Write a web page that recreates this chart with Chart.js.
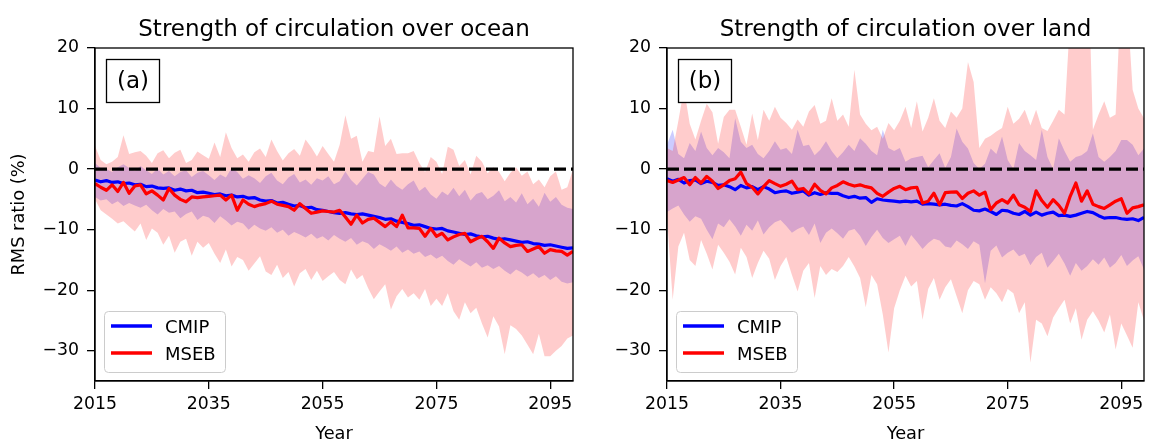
<!DOCTYPE html>
<html>
<head>
<meta charset="utf-8">
<script src="https://cdn.jsdelivr.net/npm/chart.js@4.4.1/dist/chart.umd.min.js"></script>
<style>
  html, body { margin: 0; padding: 0; background: #fff; overflow: hidden; }
  #wrap { position: relative; width: 1151px; height: 442px; }
  canvas { position: absolute; top: 0; }
</style>
</head>
<body>
<div id="wrap">
  <canvas id="ocean" width="580" height="442" style="left:0px"></canvas>
  <canvas id="land" width="579" height="442" style="left:572px"></canvas>
</div>
<script>
// categories
const years = [];
for (let y = 2015; y <= 2099; y++) years.push(y);
const xTicks = [2015, 2035, 2055, 2075, 2095];
const yTicks = [20, 10, 0, -10, -20, -30];

// (a) ocean
const oceanCmipMean = [
  -1.8,-2.1,-1.9,-2.2,-2.1,-2.4,-2.3,-2.6,-2.5,-2.9,
  -2.8,-3.1,-3.2,-3.1,-3.5,-3.3,-3.6,-3.5,-3.9,-3.8,
  -4.0,-4.2,-4.1,-4.4,-4.3,-4.6,-4.5,-4.8,-4.7,-5.1,
  -5.3,-5.2,-5.6,-5.5,-5.8,-6.1,-6.0,-6.4,-6.3,-6.7,
  -6.8,-7.0,-7.2,-7.3,-7.2,-7.4,-7.5,-7.4,-7.6,-7.8,
  -8.0,-8.3,-8.2,-8.6,-8.8,-9.0,-9.3,-9.2,-9.5,-9.8,
  -9.9,-9.8,-10.2,-10.4,-10.6,-10.8,-10.7,-11.0,-11.2,-11.1,
  -11.4,-11.6,-11.5,-11.7,-11.9,-12.1,-12.0,-12.3,-12.4,-12.6,
  -12.5,-12.7,-12.9,-13.1,-13.0];
const oceanCmipHigh = [
  1.0,0.2,0.0,-0.5,0.3,0.8,0.2,-0.3,0.5,-0.2,
  -0.8,0.1,-0.9,-0.3,-1.2,-0.5,-0.2,-1.3,-0.6,-0.3,
  -1.0,-1.8,-0.9,-1.4,0.2,-0.5,-1.6,-1.0,-1.5,-2.3,
  -1.2,-0.6,-1.9,-2.5,-1.4,-0.8,-2.2,-1.7,-2.6,-1.5,
  -1.9,-1.2,-2.5,-2.0,-0.4,-1.8,-2.7,-1.6,-0.5,-0.9,
  -2.4,-3.0,-1.7,-2.8,-3.4,-2.5,-1.9,-3.6,-2.9,-4.2,
  -4.9,-3.7,-4.3,-3.1,-4.5,-3.4,-5.2,-4.1,-3.8,-5.0,
  -4.4,-3.5,-5.3,-4.6,-5.5,-4.0,-5.8,-4.9,-6.2,-3.9,
  -5.4,-4.6,-5.9,-6.4,-6.6];
const oceanCmipLow = [
  -4.6,-5.2,-5.0,-5.8,-5.3,-6.1,-5.6,-6.0,-6.4,-5.9,
  -6.8,-7.5,-6.6,-7.2,-7.0,-8.1,-7.4,-7.0,-8.4,-7.7,
  -8.0,-8.9,-7.8,-8.5,-9.3,-8.7,-9.0,-10.0,-9.2,-9.8,
  -10.2,-9.6,-10.5,-10.0,-11.0,-10.4,-10.8,-11.3,-10.7,-11.5,
  -11.1,-11.8,-10.9,-11.5,-12.0,-11.4,-12.5,-11.9,-12.3,-13.2,
  -12.4,-12.9,-13.5,-12.8,-13.8,-13.3,-14.0,-13.6,-14.5,-14.1,
  -14.8,-14.3,-15.2,-15.8,-14.9,-15.5,-16.1,-15.4,-16.3,-15.9,
  -16.5,-16.0,-16.8,-17.4,-16.6,-17.1,-17.8,-17.2,-18.0,-17.5,
  -18.3,-17.7,-18.6,-18.9,-18.7];
const oceanMsebMean = [
  -2.4,-3.0,-3.5,-2.6,-3.7,-2.2,-4.0,-2.8,-2.6,-4.1,
  -3.6,-4.3,-5.1,-3.2,-4.3,-5.0,-5.4,-4.6,-4.7,-4.6,
  -4.5,-4.4,-4.3,-5.1,-4.3,-6.8,-5.1,-5.8,-6.2,-5.9,
  -5.7,-5.3,-5.8,-6.0,-6.2,-6.8,-5.7,-6.5,-7.3,-7.1,
  -6.9,-7.0,-7.1,-6.8,-7.9,-9.1,-7.6,-8.9,-8.3,-8.1,
  -8.8,-9.5,-8.7,-9.5,-7.6,-9.7,-9.7,-9.8,-11.1,-9.8,
  -11.1,-10.6,-11.7,-11.2,-10.8,-10.6,-12.0,-11.5,-11.1,-12.0,
  -13.1,-11.4,-12.2,-12.8,-12.6,-12.5,-13.6,-13.2,-12.8,-13.9,
  -13.3,-13.5,-13.6,-14.2,-13.6];
const oceanMsebHigh = [
  3.8,1.5,0.8,1.2,2.0,5.6,2.5,2.8,3.0,2.2,
  1.0,2.6,3.1,1.8,2.7,3.2,1.0,1.5,2.9,2.3,
  1.7,4.4,2.0,6.1,3.5,1.8,2.4,1.2,2.8,3.4,
  2.0,4.9,3.0,1.4,2.6,3.3,2.2,4.9,3.6,2.1,
  3.8,2.5,1.2,4.0,8.9,5.0,5.5,1.2,3.0,2.8,
  8.7,3.8,5.0,2.5,2.6,2.6,3.0,1.0,-0.5,2.0,
  1.2,-0.8,3.7,3.2,0.5,1.5,-0.9,2.2,1.2,-0.7,
  0.3,-0.5,-2.0,-0.6,0.3,-1.1,-0.4,-2.5,-1.7,-3.0,
  -1.2,-0.4,-3.4,-3.0,0.0];
const oceanMsebLow = [
  -5.0,-6.8,-7.5,-8.2,-9.0,-8.6,-9.5,-10.3,-9.0,-11.7,
  -9.8,-10.5,-12.5,-11.0,-13.8,-12.0,-11.5,-14.3,-12.0,-13.0,
  -12.2,-14.0,-15.5,-13.3,-16.1,-14.5,-15.0,-16.8,-15.6,-14.4,
  -16.9,-17.5,-15.8,-18.0,-17.0,-19.4,-17.2,-16.5,-18.3,-16.8,
  -18.5,-17.7,-17.0,-18.3,-19.0,-16.6,-18.2,-17.5,-19.7,-21.5,
  -20.2,-19.0,-23.2,-21.0,-19.8,-21.2,-20.5,-21.6,-19.8,-22.6,
  -21.4,-22.6,-20.5,-23.5,-24.9,-22.0,-23.8,-22.9,-25.5,-27.8,
  -24.3,-26.0,-30.6,-25.8,-26.4,-27.5,-29.0,-30.6,-27.2,-30.9,
  -30.9,-30.0,-29.2,-28.0,-27.5];

// (b) land
const landCmipMean = [
  -1.6,-2.0,-1.7,-2.3,-1.9,-1.8,-2.4,-2.0,-2.2,-2.7,
  -2.6,-2.9,-3.4,-2.7,-3.1,-2.9,-3.4,-2.9,-3.3,-3.9,
  -3.7,-3.6,-4.0,-3.8,-3.6,-4.3,-3.9,-4.2,-3.9,-4.0,
  -4.0,-4.4,-4.7,-4.5,-4.8,-4.7,-5.5,-4.9,-5.1,-5.2,
  -5.3,-5.4,-5.3,-5.4,-5.3,-5.8,-5.7,-5.8,-5.9,-5.8,
  -6.0,-6.1,-5.7,-6.2,-6.8,-6.9,-6.6,-7.0,-7.5,-6.8,
  -6.9,-7.3,-7.5,-7.0,-7.6,-7.1,-7.6,-7.3,-7.1,-7.7,
  -7.6,-7.8,-7.6,-7.3,-7.0,-7.2,-7.7,-8.1,-8.0,-8.0,
  -8.2,-8.3,-8.2,-8.5,-8.0];
const landCmipHigh = [
  4.0,6.5,2.5,1.8,4.3,3.0,6.2,3.5,2.3,3.5,
  2.8,1.8,8.4,4.5,3.5,4.0,2.5,1.8,3.0,4.6,
  3.2,3.5,2.5,6.5,3.8,4.0,2.3,3.2,4.6,3.0,
  1.8,2.8,4.0,3.0,5.1,4.2,3.0,2.3,6.5,3.5,
  3.0,3.5,1.2,1.8,2.0,2.2,0.3,1.5,2.6,0.2,
  2.0,6.7,4.5,3.4,1.0,0.0,0.9,3.4,2.5,5.4,
  1.5,0.0,4.3,3.0,2.3,1.5,6.5,2.0,0.0,5.1,
  3.0,1.2,2.0,2.3,3.0,5.9,2.0,1.2,2.0,3.0,
  4.8,4.8,4.0,2.3,3.4];
const landCmipLow = [
  -7.1,-6.5,-6.0,-7.5,-8.7,-7.8,-8.2,-10.0,-11.6,-9.0,
  -9.6,-8.3,-9.5,-11.0,-9.2,-10.2,-8.5,-10.8,-9.6,-8.8,
  -8.4,-9.4,-10.5,-9.9,-9.5,-10.9,-9.0,-12.2,-10.5,-9.8,
  -10.6,-11.5,-10.2,-9.9,-11.0,-12.7,-11.2,-10.0,-11.4,-12.2,
  -11.6,-11.0,-12.7,-10.9,-12.0,-13.2,-12.2,-11.5,-11.8,-12.8,
  -13.0,-11.8,-12.4,-13.2,-11.9,-12.5,-18.9,-13.5,-12.6,-14.6,
  -13.8,-13.3,-14.4,-14.0,-15.9,-14.5,-13.8,-16.3,-15.2,-14.0,
  -15.6,-17.6,-15.5,-16.8,-16.0,-14.9,-15.8,-14.6,-16.3,-15.5,
  -14.2,-16.0,-15.1,-14.4,-16.6];
const landMsebMean = [
  -1.9,-2.2,-1.8,-1.4,-2.6,-1.4,-2.3,-1.2,-2.0,-3.2,
  -2.6,-1.9,-1.6,-0.5,-2.4,-3.0,-4.1,-2.9,-1.9,-2.4,
  -2.85,-2.5,-2.0,-3.4,-3.2,-4.1,-2.5,-3.5,-4.1,-3.1,
  -2.7,-2.1,-2.5,-2.8,-2.6,-2.9,-3.1,-4.0,-4.5,-3.8,
  -3.2,-2.85,-3.4,-3.1,-3.0,-5.6,-5.3,-4.0,-5.9,-3.9,
  -3.8,-3.75,-4.85,-4.0,-3.6,-4.3,-3.8,-6.7,-5.6,-5.05,
  -5.6,-4.3,-5.9,-6.3,-7.0,-3.6,-5.2,-6.3,-5.05,-6.0,
  -7.3,-4.5,-2.3,-5.3,-3.6,-5.8,-6.2,-6.5,-5.9,-5.3,
  -4.9,-7.3,-6.4,-6.2,-5.9];
const landMsebHigh = [
  3.5,3.0,8.0,13.3,7.5,4.9,8.0,10.8,9.4,4.2,
  8.6,9.8,9.8,7.0,4.0,9.2,4.8,9.8,8.0,10.3,
  8.5,7.6,6.5,8.2,7.0,9.5,10.6,7.5,8.0,11.7,
  8.0,9.0,7.0,16.4,9.0,7.5,6.4,7.0,5.0,7.6,
  6.4,8.0,10.3,6.8,11.2,6.2,8.5,11.7,8.0,6.8,
  9.5,8.5,10.0,17.7,14.4,3.5,5.0,5.5,6.2,6.8,
  10.3,7.5,8.3,9.8,7.2,9.8,6.8,6.3,8.0,9.8,
  9.0,25.0,24.0,27.0,40.0,6.5,9.0,11.2,8.5,9.0,
  30.0,28.0,13.1,10.0,8.4];
const landMsebLow = [
  -7.9,-21.6,-12.8,-10.5,-15.0,-16.0,-11.7,-14.0,-16.6,-12.5,
  -13.8,-15.3,-17.4,-13.0,-14.5,-18.0,-15.5,-13.5,-14.8,-18.3,
  -16.0,-14.5,-17.5,-20.2,-16.8,-15.5,-21.3,-16.0,-17.5,-16.5,
  -17.0,-16.0,-14.5,-16.1,-18.0,-22.8,-17.5,-19.0,-24.0,-30.3,
  -23.0,-20.0,-17.6,-19.4,-18.5,-24.9,-19.8,-18.0,-21.6,-19.5,
  -18.2,-21.0,-23.8,-20.0,-18.5,-19.0,-21.6,-19.5,-20.5,-22.0,
  -19.8,-20.5,-23.8,-22.0,-32.0,-24.9,-25.5,-27.6,-24.5,-23.0,
  -21.6,-25.5,-23.0,-28.2,-24.9,-23.5,-25.0,-27.0,-24.0,-29.8,
  -25.5,-27.5,-29.5,-22.0,-25.0];

Chart.defaults.font.family = "'DejaVu Sans', sans-serif";
Chart.defaults.font.size = 17.3;
Chart.defaults.color = '#000';

const pts = vals => vals.map((v, i) => ({ x: years[i], y: v }));
const minus = v => (v < 0 ? '\u2212' + Math.abs(v) : String(v));

// frame, title, panel tag and legend drawn over the plot
const decorations = {
  id: 'decorations',
  afterDatasetsDraw(chart, args, opts) {
    const ctx = chart.ctx;
    const ca = chart.chartArea;
    ctx.save();

    ctx.strokeStyle = '#000';
    ctx.lineWidth = 1.3;
    ctx.strokeRect(ca.left, ca.top, ca.right - ca.left, ca.bottom - ca.top);

    // panel tag
    ctx.fillStyle = '#fff';
    ctx.fillRect(ca.left + 11.5, ca.top + 11.5, 53, 43);
    ctx.strokeRect(ca.left + 11.5, ca.top + 11.5, 53, 43);
    ctx.fillStyle = '#000';
    ctx.font = "23px 'DejaVu Sans'";
    ctx.textAlign = 'center';
    ctx.textBaseline = 'alphabetic';
    ctx.fillText(opts.tag, ca.left + 38, ca.top + 40);

    // legend
    const lx = ca.left + 9.5, ly = ca.top + 263.5, lw = 121, lh = 61, r = 4;
    ctx.beginPath();
    ctx.roundRect(lx, ly, lw, lh, r);
    ctx.fillStyle = 'rgba(255,255,255,0.8)';
    ctx.fill();
    ctx.strokeStyle = '#cccccc';
    ctx.lineWidth = 1;
    ctx.stroke();
    const entries = [['CMIP', '#0000ff'], ['MSEB', '#ff0000']];
    entries.forEach(([name, col], i) => {
      const yy = ca.top + 278 + i * 27;
      ctx.strokeStyle = col;
      ctx.lineWidth = 3.3;
      ctx.beginPath();
      ctx.moveTo(ca.left + 16, yy);
      ctx.lineTo(ca.left + 57, yy);
      ctx.stroke();
      ctx.fillStyle = '#000';
      ctx.font = "18px 'DejaVu Sans'";
      ctx.textAlign = 'left';
      ctx.textBaseline = 'alphabetic';
      ctx.fillText(name, ca.left + 70, yy + 6.5);
    });

    // title
    ctx.font = "23px 'DejaVu Sans'";
    ctx.textAlign = 'center';
    ctx.textBaseline = 'alphabetic';
    ctx.fillText(opts.title, (ca.left + ca.right) / 2, 35.5);
    ctx.restore();
  }
};

function makePanel(id, p) {
  return new Chart(document.getElementById(id), {
    type: 'line',
    data: {
      datasets: [
        { data: pts(p.cmipHigh), fill: '+1', backgroundColor: 'rgba(0,0,255,0.2)', borderWidth: 0, order: 6 },
        { data: pts(p.cmipLow), fill: false, borderWidth: 0, order: 6 },
        { data: pts(p.msebHigh), fill: '+1', backgroundColor: 'rgba(255,0,0,0.2)', borderWidth: 0, order: 4 },
        { data: pts(p.msebLow), fill: false, borderWidth: 0, order: 4 },
        { data: pts(years.map(() => 0)), borderColor: '#000', borderWidth: 3.2, borderDash: [12, 5], fill: false, order: 2 },
        { data: pts(p.cmipMean), borderColor: '#0000ff', borderWidth: 3.2, fill: false, order: 1 },
        { data: pts(p.msebMean), borderColor: '#ff0000', borderWidth: 3.2, fill: false, order: 0 }
      ]
    },
    options: {
      responsive: false,
      animation: false,
      devicePixelRatio: 1,
      layout: { padding: { left: 0, top: 48, right: 7, bottom: 0 } },
      elements: { point: { radius: 0 }, line: { tension: 0, borderJoinStyle: 'round', borderCapStyle: 'butt' } },
      plugins: {
        legend: { display: false },
        tooltip: { enabled: false },
        decorations: { title: p.title, tag: p.tag }
      },
      scales: {
        x: {
          type: 'linear', min: 2015, max: 2099,
          afterBuildTicks: s => { s.ticks = xTicks.map(v => ({ value: v })); },
          afterFit: s => { s.height = 61; },
          ticks: { autoSkip: false, maxRotation: 0, padding: 5, callback: v => String(v) },
          grid: { display: true, drawOnChartArea: false, drawTicks: true, tickLength: 8, color: '#000', lineWidth: 1.3 },
          border: { display: true, color: '#000', width: 1.3 },
          title: { display: true, text: 'Year', font: { size: 17.8 }, padding: { top: 0, bottom: -3 } }
        },
        y: {
          min: -35, max: 20,
          afterBuildTicks: s => { s.ticks = yTicks.map(v => ({ value: v })); },
          afterFit: s => { s.width = 95; },
          ticks: { autoSkip: false, padding: 8, callback: v => minus(v) },
          grid: { display: true, drawOnChartArea: false, drawTicks: true, tickLength: 8, color: '#000', lineWidth: 1.3 },
          border: { display: true, color: '#000', width: 1.3 },
          title: { display: p.yTitle, text: 'RMS ratio (%)', font: { size: 17.8 }, padding: { top: 9, bottom: 0 } }
        }
      }
    },
    plugins: [decorations]
  });
}

makePanel('ocean', {
  title: 'Strength of circulation over ocean', tag: '(a)', yTitle: true,
  cmipMean: oceanCmipMean, cmipHigh: oceanCmipHigh, cmipLow: oceanCmipLow,
  msebMean: oceanMsebMean, msebHigh: oceanMsebHigh, msebLow: oceanMsebLow
});
makePanel('land', {
  title: 'Strength of circulation over land', tag: '(b)', yTitle: false,
  cmipMean: landCmipMean, cmipHigh: landCmipHigh, cmipLow: landCmipLow,
  msebMean: landMsebMean, msebHigh: landMsebHigh, msebLow: landMsebLow
});
</script>
</body>
</html>
